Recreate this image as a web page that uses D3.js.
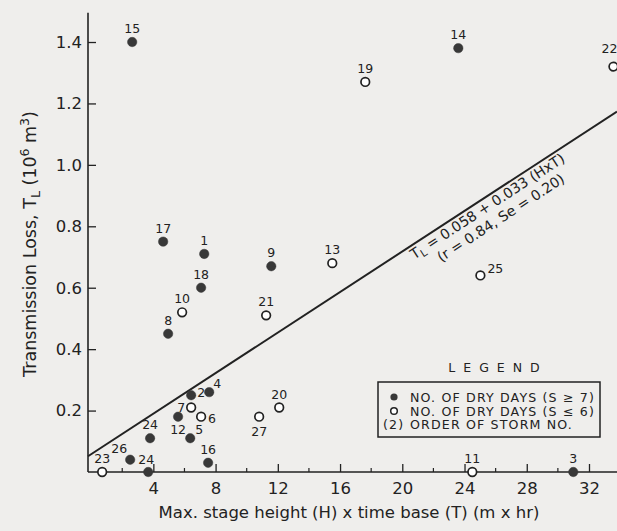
<!DOCTYPE html>
<html><head><meta charset="utf-8">
<script src="https://cdn.jsdelivr.net/npm/d3@7"></script>
<style>
body{margin:0;background:#efeeec}
svg{display:block}
text{font-family:"DejaVu Sans",Arial,sans-serif;fill:#222}
</style>
</head><body>
<svg id="c" width="617" height="531"></svg>
<script>
// ---- data ----
const storms = [15, 17, 1, 9, 18, 10, 21, 8, 2, 4, 7, 6, 20, 27, 12, 5, 24, 26, 24, 16, 23, 19, 14, 22, 13, 25, 11, 3];
const hxt    = [2.64, 4.63, 7.27, 11.58, 7.07, 5.85, 11.25, 4.95, 6.43, 7.59, 6.43, 7.07, 12.09, 10.80, 5.59, 6.37, 3.79, 2.51, 3.67, 7.52, 0.71, 17.62, 23.60, 33.57, 15.50, 25.02, 24.50, 30.99];
const tl     = [1.40, 0.75, 0.71, 0.67, 0.60, 0.52, 0.51, 0.45, 0.25, 0.26, 0.21, 0.18, 0.21, 0.18, 0.18, 0.11, 0.11, 0.04, 0.00, 0.03, 0.00, 1.27, 1.38, 1.32, 0.68, 0.64, 0.00, 0.00];
// dry-day class: "long" = S >= 7 (filled), "short" = S <= 6 (open)
const dryClass = ["long","long","long","long","long","short","short","long","long","long","short","short","short","short","long","long","long","long","long","long","short","short","long","short","short","short","short","long"];
const xTickValues = [4, 8, 12, 16, 20, 24, 28, 32];
const xMinorValues = [2, 6, 10, 14, 18, 22, 26, 30];
const yTickValues = [0.2, 0.4, 0.6, 0.8, 1.0, 1.2, 1.4];
const regIntercept = 0.058, regSlope = 0.033;
const legendItems = ["NO. OF DRY DAYS (S \u2265 7)", "NO. OF DRY DAYS (S \u2264 6)", "ORDER OF STORM NO."];

// ---- drawing ----
const FONT = "DejaVu Sans, Arial, sans-serif";
const svg = d3.select("#c");
const x = d3.scaleLinear().domain([-0.2, 33.8]).range([88, 617]);
const y = d3.scaleLinear().domain([0, 1.5]).range([472, 11.3]);
const ink = "#222";

// axes
const xAxis = d3.axisBottom(x).tickValues(xTickValues).tickSize(-8).tickPadding(10).tickFormat(d3.format("d"));
const gx = svg.append("g").attr("transform", `translate(0,${y(0)})`).call(xAxis);
gx.select(".domain").attr("d", `M${x.range()[0]},0H${x.range()[1]}`).attr("stroke", ink).attr("stroke-width", 1.6);
gx.selectAll(".tick line").attr("stroke", ink).attr("stroke-width", 1.3);
gx.selectAll(".tick text").attr("font-size", 16.5).attr("fill", ink).attr("font-family", FONT);
svg.append("g").selectAll("line").data(xMinorValues).join("line")
  .attr("x1", d => x(d)).attr("x2", d => x(d)).attr("y1", y(0)).attr("y2", y(0) - 4)
  .attr("stroke", ink).attr("stroke-width", 1.2);

const yAxis = d3.axisLeft(y).tickValues(yTickValues).tickSize(-8).tickPadding(6).tickFormat(d3.format(".1f"));
const gy = svg.append("g").attr("transform", `translate(${x.range()[0]},0)`).call(yAxis);
gy.select(".domain").attr("d", `M0,${y(0)}V${y.range()[1] + 1.5}`).attr("stroke", ink).attr("stroke-width", 1.6);
gy.selectAll(".tick line").attr("stroke", ink).attr("stroke-width", 1.3);
gy.selectAll(".tick text").attr("font-size", 16.5).attr("fill", ink).attr("font-family", FONT);

// axis titles
svg.append("text").attr("x", 349).attr("y", 518).attr("text-anchor", "middle").attr("font-size", 16.5)
  .text("Max. stage height (H) x time base (T) (m x hr)");
const yt = svg.append("text").attr("transform", "translate(36,244) rotate(-90)").attr("text-anchor", "middle").attr("font-size", 17.5);
yt.append("tspan").text("Transmission Loss, T");
yt.append("tspan").attr("font-size", 12.5).attr("dy", 4).text("L");
yt.append("tspan").attr("dy", -4).text(" (10");
yt.append("tspan").attr("font-size", 12.5).attr("dy", -7).text("6");
yt.append("tspan").attr("dy", 7).text(" m");
yt.append("tspan").attr("font-size", 12.5).attr("dy", -7).text("3");
yt.append("tspan").attr("dy", 7).text(")");

// regression line
const xd = x.domain();
svg.append("line")
  .attr("x1", x(xd[0])).attr("y1", y(regIntercept + regSlope * xd[0]))
  .attr("x2", x(xd[1])).attr("y2", y(regIntercept + regSlope * xd[1]))
  .attr("stroke", ink).attr("stroke-width", 2);
const ang = Math.atan2(y(regIntercept) - y(regIntercept + regSlope * 10), x(10) - x(0)) * 180 / Math.PI;
const ax = 20.3;
const eq = svg.append("g").attr("transform", `translate(${x(ax)},${y(regIntercept + regSlope * ax)}) rotate(${-ang})`);
const t1 = eq.append("text").attr("x", 0).attr("y", 13.5).attr("font-size", 14.2);
t1.append("tspan").text("T");
t1.append("tspan").attr("font-size", 10.5).attr("dy", 3).text("L");
t1.append("tspan").attr("dy", -3).text(" = " + regIntercept.toFixed(3) + " + " + regSlope.toFixed(3) + " (HxT)");
eq.append("text").attr("x", 21).attr("y", 30.5).attr("font-size", 14.2).text("(r = 0.84, Se = 0.20)");

// points
const pts = storms.map((s, i) => ({s, hx: hxt[i], t: tl[i], c: dryClass[i], i}));
svg.append("g").selectAll("circle").data(pts).join("circle")
  .attr("cx", d => x(d.hx)).attr("cy", d => y(d.t))
  .attr("r", d => d.c === "long" ? 4.7 : 4.3)
  .attr("fill", d => d.c === "long" ? "#383838" : "#fff")
  .attr("stroke", d => d.c === "long" ? "#383838" : ink)
  .attr("stroke-width", d => d.c === "long" ? 0.5 : 1.7);

// label placement per point index: [dx, dy, anchor]
const place = {
  8: [6, 2, "start"], 9: [4, -4, "start"], 10: [-6, 4, "end"], 11: [7, 6, "start"],
  13: [0, 19, "middle"], 14: [0, 17, "middle"], 15: [5, -4, "start"], 17: [-3, -7, "end"],
  18: [-2, -8, "middle"], 23: [4, -14, "end"], 25: [7, -2, "start"]
};
svg.append("g").selectAll("text").data(pts).join("text")
  .attr("x", d => x(d.hx) + (place[d.i] ? place[d.i][0] : 0))
  .attr("y", d => y(d.t) + (place[d.i] ? place[d.i][1] : -9))
  .attr("text-anchor", d => place[d.i] ? place[d.i][2] : "middle")
  .attr("font-size", 12.5)
  .text(d => d.s);

// legend
svg.append("text").attr("x", 498).attr("y", 372).attr("text-anchor", "middle")
  .attr("font-size", 12.5).attr("letter-spacing", 8).text("LEGEND");
svg.append("rect").attr("x", 378).attr("y", 382).attr("width", 222).attr("height", 55)
  .attr("fill", "none").attr("stroke", ink).attr("stroke-width", 1.5);
svg.append("circle").attr("cx", 394).attr("cy", 397).attr("r", 3.6).attr("fill", "#383838");
svg.append("circle").attr("cx", 394).attr("cy", 411).attr("r", 3.3).attr("fill", "#fff").attr("stroke", ink).attr("stroke-width", 1.5);
svg.append("g").selectAll("text").data(legendItems).join("text")
  .attr("x", 410).attr("y", (d, i) => 402 + i * 13.5).attr("font-size", 12.6).attr("letter-spacing", 1.15).text(d => d);
svg.append("text").attr("x", 383).attr("y", 429).attr("font-size", 12.6).attr("letter-spacing", 1.15).text("(2)");
</script>
</body></html>
